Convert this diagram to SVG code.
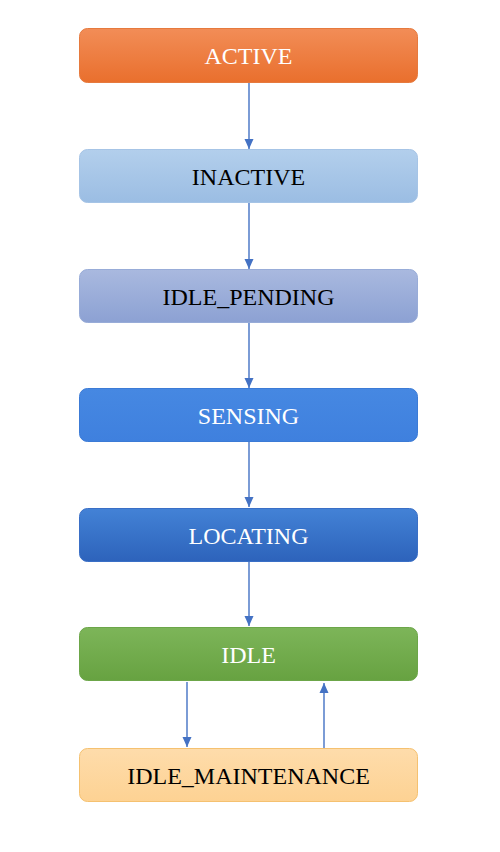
<svg xmlns="http://www.w3.org/2000/svg" width="500" height="852" viewBox="0 0 500 852">
<defs>
<linearGradient id="gOrange" x1="0" y1="0" x2="0" y2="1"><stop offset="0" stop-color="#f28d57"/><stop offset="1" stop-color="#e96f2d"/></linearGradient>
<linearGradient id="gLight" x1="0" y1="0" x2="0" y2="1"><stop offset="0" stop-color="#b3cfec"/><stop offset="1" stop-color="#9bbde3"/></linearGradient>
<linearGradient id="gPend" x1="0" y1="0" x2="0" y2="1"><stop offset="0" stop-color="#a9b9df"/><stop offset="1" stop-color="#8ca1d3"/></linearGradient>
<linearGradient id="gSense" x1="0" y1="0" x2="0" y2="1"><stop offset="0" stop-color="#4688e2"/><stop offset="1" stop-color="#3f80de"/></linearGradient>
<linearGradient id="gLoc" x1="0" y1="0" x2="0" y2="1"><stop offset="0" stop-color="#4382d6"/><stop offset="1" stop-color="#2d63bb"/></linearGradient>
<linearGradient id="gGreen" x1="0" y1="0" x2="0" y2="1"><stop offset="0" stop-color="#7db559"/><stop offset="1" stop-color="#67a241"/></linearGradient>
<linearGradient id="gYellow" x1="0" y1="0" x2="0" y2="1"><stop offset="0" stop-color="#fedcab"/><stop offset="1" stop-color="#fdd293"/></linearGradient>
<marker id="arr" markerWidth="10" markerHeight="11" refX="10" refY="5.5" orient="auto" markerUnits="userSpaceOnUse">
<path d="M0,1 L10,5.5 L0,10 Z" fill="#4472c4"/>
</marker>
</defs>
<style>
.box{stroke-width:1}
.t{font-family:"Liberation Serif","Times New Roman",serif;font-size:24px;text-anchor:middle}
.w{fill:#ffffff}
.k{fill:#000000}
.c{stroke:#4472c4;stroke-width:1.4;fill:none;marker-end:url(#arr)}
</style>
<rect width="500" height="852" fill="#ffffff"/>
<g id="connectors">
<line class="c" x1="249" y1="83" x2="249" y2="149"/>
<line class="c" x1="249" y1="203" x2="249" y2="269"/>
<line class="c" x1="249" y1="322" x2="249" y2="388"/>
<line class="c" x1="249" y1="442" x2="249" y2="507"/>
<line class="c" x1="249" y1="562" x2="249" y2="626"/>
<line class="c" x1="187" y1="682" x2="187" y2="747"/>
<line class="c" x1="324" y1="748" x2="324" y2="683"/>
</g>
<g id="active">
<rect class="box" x="79.5" y="28.5" width="338" height="54" rx="8" fill="url(#gOrange)" stroke="#e67a3e"/>
<text class="t w" x="248.5" y="64">ACTIVE</text>
</g>
<g id="inactive">
<rect class="box" x="79.5" y="149.5" width="338" height="53" rx="8" fill="url(#gLight)" stroke="#a6c4e6"/>
<text class="t k" x="248.5" y="184.5">INACTIVE</text>
</g>
<g id="idle_pending">
<rect class="box" x="79.5" y="269.5" width="338" height="53" rx="8" fill="url(#gPend)" stroke="#98acd8"/>
<text class="t k" x="248.5" y="304.5">IDLE_PENDING</text>
</g>
<g id="sensing">
<rect class="box" x="79.5" y="388.5" width="338" height="53" rx="8" fill="url(#gSense)" stroke="#3c7bd6"/>
<text class="t w" x="248.5" y="423.5">SENSING</text>
</g>
<g id="locating">
<rect class="box" x="79.5" y="508.5" width="338" height="53" rx="8" fill="url(#gLoc)" stroke="#3a6fc6"/>
<text class="t w" x="248.5" y="543.5">LOCATING</text>
</g>
<g id="idle">
<rect class="box" x="79.5" y="627.5" width="338" height="53" rx="8" fill="url(#gGreen)" stroke="#6ca649"/>
<text class="t w" x="248.5" y="662.5">IDLE</text>
</g>
<g id="idle_maintenance">
<rect class="box" x="79.5" y="748.5" width="338" height="53" rx="8" fill="url(#gYellow)" stroke="#f5c170"/>
<text class="t k" x="248.5" y="783.5">IDLE_MAINTENANCE</text>
</g>
</svg>
